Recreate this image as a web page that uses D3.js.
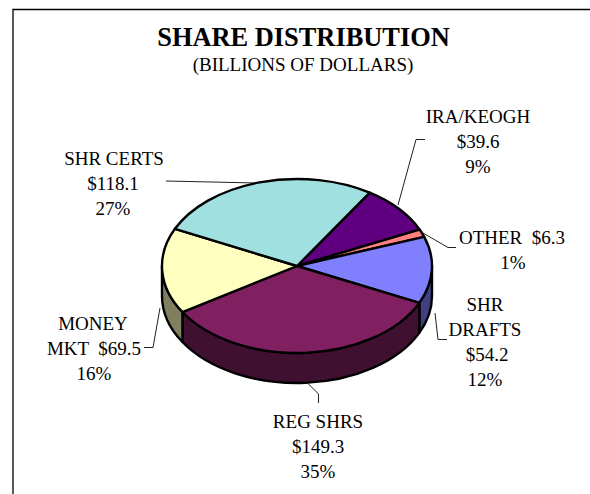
<!DOCTYPE html>
<html>
<head>
<meta charset="utf-8">
<script src="https://cdn.jsdelivr.net/npm/d3@7"></script>
<style>
  html, body { margin: 0; padding: 0; background: #fff; }
  text { font-family: "Liberation Serif", serif; fill: #000; }
</style>
</head>
<body>
<svg id="chart" width="590" height="494"></svg>
<script>
// slices, clockwise from the IRA/KEOGH slice
var categories = ['IRA/KEOGH', 'OTHER', 'SHR DRAFTS', 'REG SHRS', 'MONEY MKT', 'SHR CERTS']
var amounts = [39.6, 6.3, 54.2, 149.3, 69.5, 118.1]
var percents = ['9%', '1%', '12%', '35%', '16%', '27%']
var topColors = ['#600080', '#ff8080', '#8080ff', '#802060', '#ffffc0', '#a0e0e0']
var sideColors = ['#300040', '#804040', '#404080', '#401030', '#808060', '#507070']

var labelLines = [
  ['IRA/KEOGH', '$39.6', '9%'],
  ['OTHER  $6.3', '1%'],
  ['SHR', 'DRAFTS', '$54.2', '12%'],
  ['REG SHRS', '$149.3', '35%'],
  ['MONEY', 'MKT  $69.5', '16%'],
  ['SHR CERTS', '$118.1', '27%']
]
var labelX = [[478, 478, 478], [512, 513], [485, 485, 487, 485], [318, 318, 318], [93, 94, 94], [114, 113, 113]]
var labelY = [116, 237, 304, 421, 323, 158]
var leaders = [
  [[398, 205], [416, 139.5], [425, 139.5]],
  [[423, 233], [448, 247.5], [456, 247.5]],
  [[435, 313], [438, 339.5], [447, 339.5]],
  [[307.5, 383], [318.5, 394], [318.5, 403]],
  [[160, 308], [153, 347.5], [144, 347.5]],
  [[257, 183], [166, 181]]
]

var svg = d3.select('#chart')
var cx = 297, cy = 266, rx = 135, ry = 87, depth = 30
var startAngle = 32.6 * Math.PI / 180

// frame
svg.append('path')
  .attr('d', 'M590,9.5H13V494')
  .attr('fill', 'none')
  .attr('stroke', '#000')
  .attr('stroke-width', 1.3)

svg.append('text').attr('x', 303.5).attr('y', 46)
  .attr('text-anchor', 'middle')
  .attr('font-size', 26.4).attr('font-weight', 'bold')
  .text('SHARE DISTRIBUTION')
svg.append('text').attr('x', 303).attr('y', 71)
  .attr('text-anchor', 'middle')
  .attr('font-size', 19)
  .text('(BILLIONS OF DOLLARS)')

var pie = d3.pie().sort(null)
  .startAngle(startAngle)
  .endAngle(startAngle + 2 * Math.PI)
var slices = pie(amounts)

function pt(a, dy) {
  return [cx + rx * Math.sin(a), cy - ry * Math.cos(a) + (dy || 0)]
}

// wall, only the front half of the rim can be seen
function wallPath(d) {
  var a0 = d.startAngle, a1 = d.endAngle
  var lo = Math.max(a0, Math.PI / 2), hi = Math.min(a1, 3 * Math.PI / 2)
  if (hi <= lo) return null
  var p0 = pt(lo), p1 = pt(hi), p2 = pt(hi, depth), p3 = pt(lo, depth)
  return 'M' + p0 + 'A' + rx + ',' + ry + ' 0 0 1 ' + p1 + 'L' + p2 +
    'A' + rx + ',' + ry + ' 0 0 0 ' + p3 + 'Z'
}

svg.append('g').attr('class', 'leaders')
  .selectAll('path')
  .data(leaders)
  .enter().append('path')
    .attr('d', d3.line())
    .attr('fill', 'none')
    .attr('stroke', '#222')
    .attr('stroke-width', 1)

svg.append('g').attr('class', 'walls')
  .selectAll('path')
  .data(slices.filter(function(d) { return wallPath(d) !== null }))
  .enter().append('path')
    .attr('d', wallPath)
    .attr('fill', function(d) { return sideColors[d.index] })
    .attr('stroke', '#000')
    .attr('stroke-width', 2.4)
    .attr('stroke-linejoin', 'round')

var arc = d3.arc().innerRadius(0).outerRadius(rx)
svg.append('g').attr('class', 'top')
  .attr('transform', 'translate(' + cx + ',' + cy + ') scale(1,' + (ry / rx) + ')')
  .selectAll('path')
  .data(slices)
  .enter().append('path')
    .attr('d', arc)
    .attr('fill', function(d) { return topColors[d.index] })
    .attr('stroke', '#000')
    .attr('stroke-width', 2.4)
    .attr('stroke-linejoin', 'round')
    .attr('vector-effect', 'non-scaling-stroke')

var lineH = 25
var labels = svg.append('g').attr('class', 'labels')
  .selectAll('text')
  .data(labelLines)
  .enter().append('text')
    .attr('text-anchor', 'middle')
    .attr('font-size', 19)
    .attr('xml:space', 'preserve')
    .style('white-space', 'pre')
labels.each(function(lines, i) {
  d3.select(this).selectAll('tspan')
    .data(lines)
    .enter().append('tspan')
      .attr('x', function(d, j) { return labelX[i][j] })
      .attr('y', function(d, j) { return labelY[i] + 7 + j * lineH })
      .text(function(d) { return d })
})
</script>
</body>
</html>
